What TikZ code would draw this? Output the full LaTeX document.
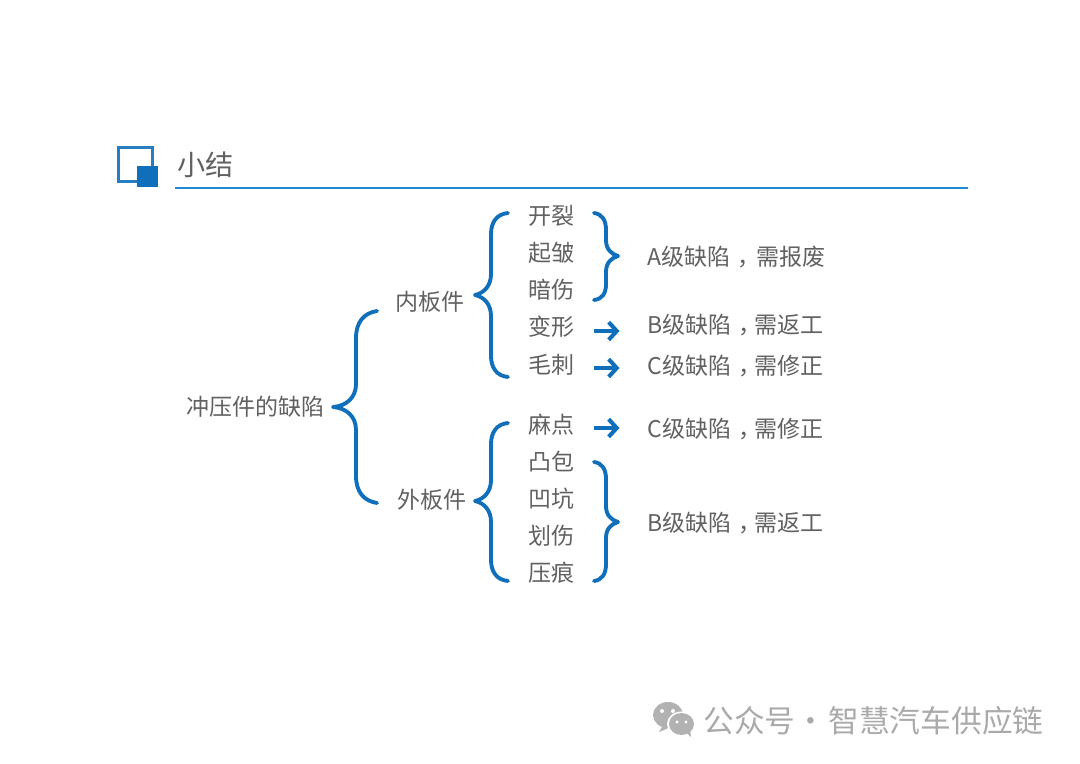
\documentclass[tikz,border=0pt]{standalone}
\usepackage{fontspec}
\setmainfont{Noto Sans CJK SC}
\usetikzlibrary{arrows.meta}
\definecolor{myblue}{HTML}{0F6FBA}
\definecolor{myrule}{HTML}{1F8AD0}
\colorlet{mytext}{black!62}
\colorlet{mymark}{black!30}

% comma sits in the middle of its cell
\newcommand{\midcomma}{\kern.32em，\kern-.32em}

\begin{document}
\begin{tikzpicture}[
    x=0.02cm,y=-0.02cm,
    every node/.style={font=\fontsize{13.1}{15}\selectfont,text=mytext,inner sep=0pt},
    item/.style={anchor=west,yshift=-0.6pt},
    brace/.style={line width=2.2pt,draw=myblue,line cap=round,line join=round},
    flow/.style={-{Straight Barb[length=4.6pt,width=10pt]},line width=2.3pt,draw=myblue,shorten <=19*0.569pt,shorten >=27.5*0.569pt}
]
\useasboundingbox [fill=white] (0,0) rectangle (1080,764);

% title
\draw [draw=myblue!90!white,line width=1.2pt] (118.5,147.5) rectangle (152.5,181.5);
\fill [myblue] (137,166) rectangle (158,187);
\node (title) [anchor=west,font=\fontsize{16}{18}\selectfont] at (177,165) {小结};
\fill [myrule] (175,186.6) rectangle (968,188.6);

% left column
\node (root) [item] at (186,406) {冲压件的缺陷};
\node (inner) [item] at (395,301) {内板件};
\node (outer) [item] at (397,499) {外板件};

\node (kl) [item] at (528.5,215) {开裂};
\node (qz) [item] at (528.5,252) {起皱};
\node (as) [item] at (528.5,289) {暗伤};
\node (bx) [item] at (528.5,326) {变形};
\node (mc) [item] at (528.5,364) {毛刺};
\node (md) [item] at (528.5,424) {麻点};
\node (tb) [item] at (528.5,460) {凸包};
\node (ak) [item] at (528.5,498) {凹坑};
\node (hs) [item] at (528.5,535) {划伤};
\node (yh) [item] at (528.5,572) {压痕};

% right column
\node (scrap) [item] at (647,256) {A级缺陷\midcomma{}\kern2pt{}需报废};
\node (reworka) [item] at (647,324) {B级缺陷\midcomma{}需返工};
\node (fixa) [item] at (647,365) {C级缺陷\midcomma{}需修正};
\node (fixb) [item] at (647,428) {C级缺陷\midcomma{}需修正};
\node (reworkb) [item] at (647,522) {B级缺陷\midcomma{}需返工};

% braces
\draw [brace] (377,311) .. controls (364,313) and (356,322) .. (356,338) -- (356,384)
  .. controls (356,398) and (346,406) .. (333,407) .. controls (346,408) and (356,416) .. (356,430)
  -- (356,476) .. controls (356,492) and (364,501) .. (377,503);
\draw [brace] (508,213) .. controls (497,214) and (491,222) .. (491,234) -- (491,274)
  .. controls (491,286) and (484,293) .. (475,295) .. controls (484,297) and (491,304) .. (491,316)
  -- (491,356) .. controls (491,368) and (497,376) .. (508,377);
\draw [brace] (508,423) .. controls (497,424) and (491,432) .. (491,444) -- (491,480)
  .. controls (491,492) and (484,499) .. (475,501) .. controls (484,503) and (491,510) .. (491,522)
  -- (491,560) .. controls (491,572) and (497,580) .. (508,581);
\draw [brace] (594,213) .. controls (602,214) and (606,220) .. (606,230) -- (606,240)
  .. controls (606,249) and (611,254) .. (618,256) .. controls (611,258) and (606,263) .. (606,272)
  -- (606,284) .. controls (606,294) and (602,299) .. (594,300);
\draw [brace] (594,462) .. controls (602,463) and (606,469) .. (606,479) -- (606,506)
  .. controls (606,515) and (611,520) .. (618,522) .. controls (611,524) and (606,529) .. (606,538)
  -- (606,564) .. controls (606,574) and (602,580) .. (594,581);

% arrows
\coordinate (rowa) at (600,331);
\coordinate (rowb) at (600,368);
\coordinate (rowc) at (600,428);
\draw [flow] (bx.east |- rowa) -- (reworka.west |- rowa);
\draw [flow] (mc.east |- rowb) -- (fixa.west |- rowb);
\draw [flow] (md.east |- rowc) -- (fixb.west |- rowc);

% mark
\fill [mymark] (668,715) ellipse (15 and 13);
\fill [mymark] (663,725) -- (659,732) -- (671,727) -- cycle;
\fill [white] (681.5,724) ellipse (14.5 and 12.5);
\fill [mymark] (681.5,724) ellipse (12.5 and 11);
\fill [mymark] (686,732) -- (691,737) -- (690,729) -- cycle;
\fill [white] (662,711) circle (2) (673,711) circle (2);
\fill [white] (677,722) circle (1.7) (686,722) circle (1.7);
\node (brand) [item,text=mymark!95!black,font=\fontsize{17.5}{20}\selectfont] at (703,720) {公众号\kern-4pt{} · \kern-2.6pt{}智慧汽车供应链};
\end{tikzpicture}
\end{document}
